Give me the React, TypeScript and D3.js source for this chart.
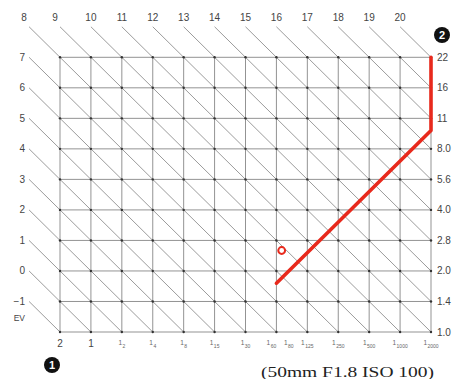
import React from "react";
import * as d3 from "d3";

// Shutter speeds (columns) and f-numbers (rows)
const SHUTTER = ["2", "1", "1/2", "1/4", "1/8", "1/15", "1/30", "1/60", "1/125", "1/250", "1/500", "1/1000", "1/2000"];
const FNUMBERS = ["1.0", "1.4", "2.0", "2.8", "4.0", "5.6", "8.0", "11", "16", "22"];
const EV_LEFT = [7, 6, 5, 4, 3, 2, 1, 0, -1];
const EV_TOP = [8, 9, 10, 11, 12, 13, 14, 15, 16, 17, 18, 19, 20];
const EV_ALL = d3.range(-1, 21);
// Program line: column index (shutter), AV (aperture value)
const PROGRAM_COL = [7, 12, 12];
const PROGRAM_AV = [1.6, 6.6, 9];
// Marked point
const MARK_COL = [7.17];
const MARK_AV = [2.67];
const EXTRA_SHUTTER = [{ col: 7.4, label: "1/80" }];

const W = 455;
const H = 379;

const x = d3.scaleLinear().domain([0, 12]).range([60, 431]);
const y = d3.scaleLinear().domain([0, 9]).range([332, 57.3]);

function Fraction({ cx, cy, label, shift = 0 }: { cx: number; cy: number; label: string; shift?: number }) {
  if (!label.includes("/")) {
    return (
      <text x={cx + shift} y={cy} textAnchor="middle" fontSize={10} fill="#444">
        {label}
      </text>
    );
  }
  const den = label.split("/")[1];
  return (
    <text x={cx + shift} y={cy} textAnchor="middle" fill="#666">
      <tspan fontSize={6.5} dy={-2}>1</tspan>
      <tspan fontSize={5} dy={3} dx={0.5}>{den}</tspan>
    </text>
  );
}

export default function App() {
  const line = d3
    .line<number>()
    .x((_, i) => x(PROGRAM_COL[i]))
    .y((d) => y(d));

  const diagonals = EV_ALL.map((n) => {
    const s = Math.max(-1, n - 9);
    const e = Math.min(12, n + 1);
    return { n, x1: x(s), y1: y(n + 1 - s), x2: x(e), y2: y(n + 1 - e) };
  });

  const font = "'Liberation Sans', Arial, sans-serif";

  return (
    <svg
      width={W}
      height={H}
      style={{ position: "absolute", left: 0, top: 0, background: "#fff" }}
      fontFamily={font}
    >
      {/* diagonals */}
      {diagonals.map((d) => (
        <line key={"d" + d.n} x1={d.x1} y1={d.y1} x2={d.x2} y2={d.y2} stroke="#909090" strokeWidth={0.9} />
      ))}
      {/* grid */}
      {SHUTTER.map((_, c) => (
        <line key={"v" + c} x1={x(c)} x2={x(c)} y1={y(0)} y2={y(9)} stroke="#939393" strokeWidth={1} />
      ))}
      {FNUMBERS.map((_, r) => (
        <line key={"h" + r} x1={x(0)} x2={x(12)} y1={y(r)} y2={y(r)} stroke="#939393" strokeWidth={1} />
      ))}
      {SHUTTER.map((_, c) =>
        FNUMBERS.map((_, r) => <circle key={`p${c}-${r}`} cx={x(c)} cy={y(r)} r={1.2} fill="#333" />)
      )}
      {/* top EV labels */}
      {EV_TOP.map((n) => (
        <text key={"t" + n} x={x(n - 9) - (n < 10 ? 5 : 0)} y={21} textAnchor="middle" fontSize={10} fill="#444">
          {n}
        </text>
      ))}
      {/* left EV labels */}
      {EV_LEFT.map((n) => (
        <text key={"l" + n} x={25} y={y(n + 2) + 3.5} textAnchor="end" fontSize={10} fill="#444">
          {n < 0 ? "\u2212" + Math.abs(n) : n}
        </text>
      ))}
      <text x={25} y={y(0.45) + 3} textAnchor="end" fontSize={8.5} fill="#444">
        EV
      </text>
      {/* right f-number labels */}
      {FNUMBERS.map((f, r) => (
        <text key={"f" + r} x={437} y={y(r) + 3.5} fontSize={10} fill="#444">
          {f}
        </text>
      ))}
      {/* bottom shutter labels */}
      {SHUTTER.map((s, c) => (
        <Fraction key={"s" + c} cx={x(c)} cy={347} label={s} shift={c === 7 ? -5 : 0} />
      ))}
      {EXTRA_SHUTTER.map((e) => (
        <Fraction key={"e" + e.label} cx={x(e.col)} cy={347} label={e.label} />
      ))}
      {/* program line */}
      <path
        d={line(PROGRAM_AV) || ""}
        fill="none"
        stroke="#e8291c"
        strokeWidth={3.6}
        strokeLinecap="round"
        strokeLinejoin="round"
      />
      {MARK_COL.map((c, i) => (
        <circle key={"m" + i} cx={x(c)} cy={y(MARK_AV[i])} r={3.4} fill="none" stroke="#e8291c" strokeWidth={2} />
      ))}
      {/* badges */}
      <circle cx={52} cy={365} r={8} fill="#111" />
      <text x={52} y={369} textAnchor="middle" fontSize={11} fontWeight="bold" fill="#fff">
        1
      </text>
      <circle cx={442} cy={35} r={8} fill="#111" />
      <text x={442} y={39} textAnchor="middle" fontSize={11} fontWeight="bold" fill="#fff">
        2
      </text>
      {/* caption */}
      <text
        x={261}
        y={377}
        fontFamily="'Liberation Serif', 'Times New Roman', serif"
        fontSize={15.5}
        fill="#222"
        textLength={173}
        lengthAdjust="spacingAndGlyphs"
      >
        (50mm F1.8 ISO 100)
      </text>
    </svg>
  );
}
